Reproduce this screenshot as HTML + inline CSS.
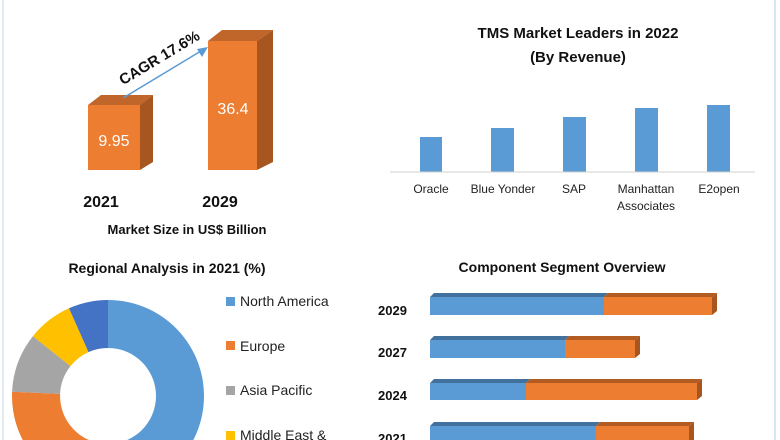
<!DOCTYPE html>
<html><head><meta charset="utf-8"><style>
html,body{margin:0;padding:0;background:#fff;width:780px;height:440px;overflow:hidden;}
svg{display:block;font-family:"Liberation Sans",sans-serif;}
.b{font-weight:bold;fill:#111;}
</style></head><body>
<svg width="780" height="440" viewBox="0 0 780 440" xmlns="http://www.w3.org/2000/svg">
<rect width="780" height="440" fill="#fff"/>
<line x1="3" y1="0" x2="3" y2="440" stroke="#e3eaf2" stroke-width="2"/>
<line x1="775" y1="0" x2="775" y2="440" stroke="#dde6f0" stroke-width="2"/>

<polygon points="88,105 101,95 153,95 140,105" fill="#c0662a"/>
<polygon points="140,105 153,95 153,162 140,170" fill="#a8561f"/>
<rect x="88" y="105" width="52" height="65" fill="#ed7d31"/>
<polygon points="208,41 222,30 273,30 257,41" fill="#c0662a"/>
<polygon points="257,41 273,30 273,162 257,170" fill="#a8561f"/>
<rect x="208" y="41" width="49" height="129" fill="#ed7d31"/>
<text x="114" y="146" font-size="16" fill="#fff" text-anchor="middle">9.95</text>
<text x="233" y="114" font-size="16" fill="#fff" text-anchor="middle">36.4</text>
<line x1="123" y1="98" x2="201" y2="51" stroke="#5b9bd5" stroke-width="1.5"/>
<polygon points="208,47 197,49 202,57" fill="#5b9bd5"/>
<text transform="translate(162,62) rotate(-31)" font-size="15" class="b" text-anchor="middle">CAGR 17.6%</text>
<text x="101" y="207" font-size="16" class="b" text-anchor="middle">2021</text>
<text x="220" y="207" font-size="16" class="b" text-anchor="middle">2029</text>
<text x="187" y="234" font-size="13" class="b" text-anchor="middle">Market Size in US$ Billion</text>

<text x="578" y="38" font-size="15" class="b" text-anchor="middle">TMS Market Leaders in 2022</text>
<text x="578" y="62" font-size="15" class="b" text-anchor="middle">(By Revenue)</text>
<rect x="420" y="137" width="22" height="35" fill="#5b9bd5"/>
<rect x="491" y="128" width="23" height="44" fill="#5b9bd5"/>
<rect x="563" y="117" width="23" height="55" fill="#5b9bd5"/>
<rect x="635" y="108" width="23" height="64" fill="#5b9bd5"/>
<rect x="707" y="105" width="23" height="67" fill="#5b9bd5"/>
<line x1="390" y1="172" x2="755" y2="172" stroke="#d0d0d0" stroke-width="1"/>
<g font-size="12" fill="#222" text-anchor="middle">
<text x="431" y="193">Oracle</text>
<text x="503" y="193">Blue Yonder</text>
<text x="574" y="193">SAP</text>
<text x="646" y="193">Manhattan</text>
<text x="646" y="210">Associates</text>
<text x="719" y="193">E2open</text>
</g>

<text x="167" y="273" font-size="14" class="b" text-anchor="middle">Regional Analysis in 2021 (%)</text>
<g transform="translate(108,396)">
<path d="M0,-96 A96,96 0 0 1 0,96 L0,48 A48,48 0 0 0 0,-48 Z" fill="#5b9bd5"/>
<path d="M0,96 A96,96 0 0 1 -95.9,-4.2 L-47.9,-2.1 A48,48 0 0 0 0,48 Z" fill="#ed7d31"/>
<path d="M-95.9,-4.2 A96,96 0 0 1 -75.1,-59.8 L-37.5,-29.9 A48,48 0 0 0 -47.9,-2.1 Z" fill="#a5a5a5"/>
<path d="M-75.1,-59.8 A96,96 0 0 1 -39,-87.7 L-19.5,-43.9 A48,48 0 0 0 -37.5,-29.9 Z" fill="#ffc000"/>
<path d="M-39,-87.7 A96,96 0 0 1 0,-96 L0,-48 A48,48 0 0 0 -19.5,-43.9 Z" fill="#4472c4"/>
</g>
<g font-size="14" fill="#222">
<rect x="226" y="297" width="9" height="9" fill="#5b9bd5"/><text x="240" y="306">North America</text>
<rect x="226" y="341" width="9" height="9" fill="#ed7d31"/><text x="240" y="351">Europe</text>
<rect x="226" y="386" width="9" height="9" fill="#a5a5a5"/><text x="240" y="395">Asia Pacific</text>
<rect x="226" y="431" width="9" height="9" fill="#ffc000"/><text x="240" y="440">Middle East &amp;</text>
</g>

<text x="562" y="272" font-size="14" class="b" text-anchor="middle">Component Segment Overview</text>
<g font-size="13" class="b">
<text x="378" y="315">2029</text>
<text x="378" y="357">2027</text>
<text x="378" y="400">2024</text>
<text x="378" y="443">2021</text>
</g>
<g>
<polygon points="430,297 434,293 608,293 604,297" fill="#41719c"/><polygon points="604,297 608,293 717,293 712,297" fill="#b35c22"/><polygon points="712,297 717,293 717,311 712,315" fill="#a8561f"/>
<rect x="430" y="297" width="174" height="18" fill="#5b9bd5"/><rect x="604" y="297" width="108" height="18" fill="#ed7d31"/>
<polygon points="430,340 434,336 569,336 565,340" fill="#41719c"/><polygon points="565,340 569,336 640,336 635,340" fill="#b35c22"/><polygon points="635,340 640,336 640,354 635,358" fill="#a8561f"/>
<rect x="430" y="340" width="135" height="18" fill="#5b9bd5"/><rect x="565" y="340" width="70" height="18" fill="#ed7d31"/>
<polygon points="430,383 434,379 530,379 526,383" fill="#41719c"/><polygon points="526,383 530,379 702,379 697,383" fill="#b35c22"/><polygon points="697,383 702,379 702,396 697,400" fill="#a8561f"/>
<rect x="430" y="383" width="96" height="17" fill="#5b9bd5"/><rect x="526" y="383" width="171" height="17" fill="#ed7d31"/>
<polygon points="430,426 434,422 600,422 596,426" fill="#41719c"/><polygon points="596,426 600,422 694,422 689,426" fill="#b35c22"/><polygon points="689,426 694,422 694,440 689,444" fill="#a8561f"/>
<rect x="430" y="426" width="166" height="18" fill="#5b9bd5"/><rect x="596" y="426" width="93" height="18" fill="#ed7d31"/>
</g>
</svg>
</body></html>
